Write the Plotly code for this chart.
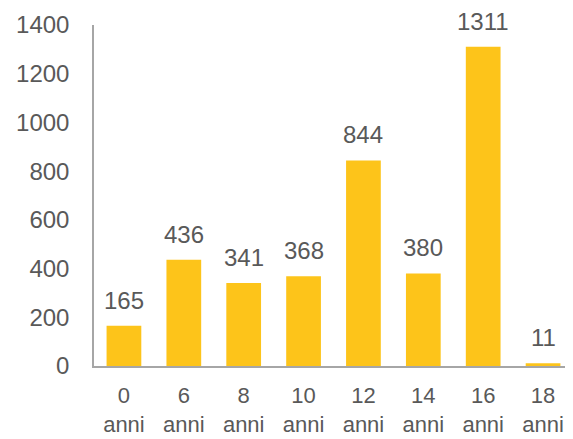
import plotly.graph_objects as go

categories = ["0<br>anni", "6<br>anni", "8<br>anni", "10<br>anni", "12<br>anni", "14<br>anni", "16<br>anni", "18<br>anni"]
values = [165, 436, 341, 368, 844, 380, 1311, 11]
y_ticks = [0, 200, 400, 600, 800, 1000, 1200, 1400]

font_color = "#595959"
bar_color = "#FDC41A"
fam = "Liberation Sans, Arial, sans-serif"

fig = go.Figure(go.Bar(x=categories, y=values, marker_color=bar_color, marker_line_width=0))

for c, v in zip(categories, values):
    fig.add_annotation(x=c, y=v, text=str(v), showarrow=False, yanchor="bottom", yshift=10,
                       font=dict(size=24, color=font_color, family=fam))

# page body has an 8px margin, so margins are offset accordingly
fig.update_layout(
    width=573, height=439,
    margin=dict(l=86, r=8, t=17, b=81),
    paper_bgcolor="white", plot_bgcolor="white",
    font=dict(family=fam, size=24, color=font_color),
    bargap=0.42,
    showlegend=False,
)
fig.update_yaxes(range=[0, 1400], tickvals=y_ticks, showgrid=False, zeroline=False, automargin=False,
                 showline=True, linecolor="#A6A6A6", linewidth=1.5, ticks="", ticklabelstandoff=18)
fig.update_xaxes(showline=True, linecolor="#A6A6A6", linewidth=1.5, ticks="", automargin=False,
                 ticklabelstandoff=9, tickfont=dict(size=22))

fig.write_html("out.html")
